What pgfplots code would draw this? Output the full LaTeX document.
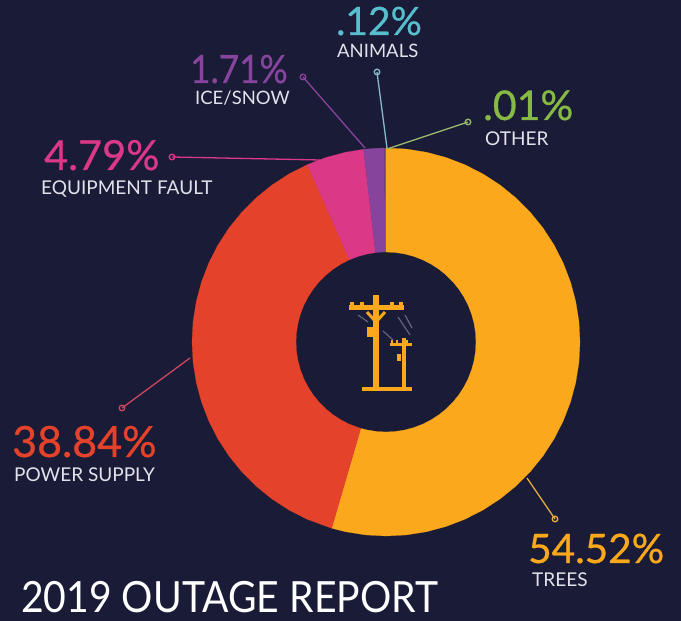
\documentclass[border=0pt]{standalone}
\usepackage{graphicx}
\usepackage{pgfplots}
\pgfplotsset{compat=1.18}
\usepackage{fontspec}
\setmainfont{Lato}
\newfontfamily\pctfont[FakeBold=0.7]{Lato}
\definecolor{bg}{RGB}{26,27,54}
\definecolor{ctrees}{RGB}{252,168,28}
\definecolor{cpower}{RGB}{228,66,42}
\definecolor{cequip}{RGB}{219,56,136}
\definecolor{cice}{RGB}{134,68,156}
\definecolor{canim}{RGB}{86,190,205}
\definecolor{cother}{RGB}{134,186,68}
\definecolor{ctext}{RGB}{226,226,236}
\newcommand{\txt}[5]{\node[anchor=base west,inner sep=0pt,text=#4,font=\fontsize{#3}{#3}\selectfont] at (axis cs:{#1-386},{342-#2}) {#5};}
\begin{document}
\begin{tikzpicture}
\begin{axis}[
  scale only axis,width=681pt,height=621pt,
  xmin=-386,xmax=295,ymin=-279,ymax=342,
  ticks=none,axis line style={draw=none},
  axis background/.style={fill=bg},
  clip=true]
% donut wedges (angle, radius): percentages 54.52, 38.84, 4.79, 1.71, .12, .01
\addplot[data cs=polar,fill=ctrees,draw=ctrees,line width=0.2pt] coordinates {
(90,194)(84,194)(78,194)(72,194)(66,194)(60,194)(54,194)(48,194)(42,194)(36,194)(30,194)(24,194)(18,194)(12,194)(6,194)(0,194)(-6,194)(-12,194)(-18,194)(-24,194)(-30,194)(-36,194)(-42,194)(-48,194)(-54,194)(-60,194)(-66,194)(-72,194)(-78,194)(-84,194)(-90,194)(-96,194)(-102,194)(-106.27,194)
(-106.27,90)(-102,90)(-96,90)(-90,90)(-84,90)(-78,90)(-72,90)(-66,90)(-60,90)(-54,90)(-48,90)(-42,90)(-36,90)(-30,90)(-24,90)(-18,90)(-12,90)(-6,90)(0,90)(6,90)(12,90)(18,90)(24,90)(30,90)(36,90)(42,90)(48,90)(54,90)(60,90)(66,90)(72,90)(78,90)(84,90)(90,90)} -- cycle;
\addplot[data cs=polar,fill=cpower,draw=cpower,line width=0.2pt] coordinates {
(113.9,194)(120,194)(126,194)(132,194)(138,194)(144,194)(150,194)(156,194)(162,194)(168,194)(174,194)(180,194)(186,194)(192,194)(198,194)(204,194)(210,194)(216,194)(222,194)(228,194)(234,194)(240,194)(246,194)(253.73,194)
(253.73,90)(246,90)(240,90)(234,90)(228,90)(222,90)(216,90)(210,90)(204,90)(198,90)(192,90)(186,90)(180,90)(174,90)(168,90)(162,90)(156,90)(150,90)(144,90)(138,90)(132,90)(126,90)(120,90)(113.9,90)} -- cycle;
\addplot[data cs=polar,fill=cequip,draw=cequip,line width=0.2pt] coordinates {
(96.66,194)(102,194)(108,194)(113.9,194)(113.9,90)(108,90)(102,90)(96.66,90)} -- cycle;
\addplot[data cs=polar,fill=cice,draw=cice,line width=0.2pt] coordinates {
(90.5,194)(93.5,194)(96.66,194)(96.66,90)(93.5,90)(90.5,90)} -- cycle;
\addplot[data cs=polar,fill=cice,draw=none] coordinates {
(90.07,194)(90.5,194)(90.5,90)(90.07,90)} -- cycle;
\addplot[data cs=polar,fill=cother,draw=none] coordinates {
(90.03,194)(90.07,194)(90.07,90)(90.03,90)} -- cycle;
% leaders
\pgfplotsset{leader/.style={line width=1.3pt,mark=o,mark indices={2},mark size=2.8pt,mark options={fill=bg,solid}}}
\addplot[leader,color={rgb,255:red,150;green,180;blue,110}] coordinates {(1,193)(82,220)};
\addplot[leader,color={rgb,255:red,135;green,185;blue,200}] coordinates {(1,194)(-9,270)};
\addplot[leader,color=cice] coordinates {(-21,194)(-83,265)};
\addplot[leader,color=cequip] coordinates {(-66,182)(-214,185)};
\addplot[leader,color={rgb,255:red,205;green,70;blue,95}] coordinates {(-196,-16)(-264,-66)};
\addplot[leader,color={rgb,255:red,225;green,170;blue,70}] coordinates {(141,-136)(169,-177)};
% pole icon
\pgfplotsset{pole/.style={color=ctrees,no marks}}
\addplot[pole,line width=6.5pt] coordinates {(-10,47)(-10,-46)};
\addplot[pole,line width=5pt] coordinates {(-37,34)(18,34)};
\addplot[pole,line width=4pt] coordinates {(-34,40)(-34,34)};
\addplot[pole,line width=4pt] coordinates {(-24,40)(-24,34)};
\addplot[pole,line width=4pt] coordinates {(6,40)(6,34)};
\addplot[pole,line width=4pt] coordinates {(15,40)(15,34)};
\addplot[pole,line width=3pt] coordinates {(-19,30)(-10,20)(-1,30)};
\addplot[pole,line width=6pt] coordinates {(-16.5,15)(-16.5,5)};
\addplot[pole,line width=4pt] coordinates {(-24,-47)(26,-47)};
\addplot[pole,line width=4.5pt] coordinates {(18,4)(18,-46)};
\addplot[pole,line width=3pt] coordinates {(4,-3)(26,-3)};
\addplot[pole,line width=2.5pt] coordinates {(6,2)(6,-3)};
\addplot[pole,line width=2.5pt] coordinates {(11,2)(11,-3)};
\addplot[pole,line width=2.5pt] coordinates {(21,2)(21,-3)};
\addplot[pole,line width=4pt] coordinates {(13,-12)(13,-19)};
\pgfplotsset{wire/.style={color={rgb,255:red,100;green,100;blue,125},no marks,line width=1.2pt}}
\addplot[wire] coordinates {(-28,27)(-18,20)};
\addplot[wire] coordinates {(-3,11)(7,2)};
\addplot[wire] coordinates {(12,25)(24,7)};
\addplot[wire] coordinates {(19,27)(26,14)};
% text
\txt{336}{35}{39}{canim}{\pctfont .12\%}
\txt{337}{58}{18.5}{ctext}{ANIMALS}
\txt{190}{83}{39}{cice}{\scalebox{.9}[1]{\pctfont 1.71\%}}
\txt{195}{105}{18.5}{ctext}{ICE/SNOW}
\txt{483}{120}{41}{cother}{\pctfont .01\%}
\txt{485}{146}{19}{ctext}{OTHER}
\txt{44}{170}{41.5}{cequip}{\pctfont 4.79\%}
\txt{41}{195}{19}{ctext}{EQUIPMENT FAULT}
\txt{12}{457}{43}{cpower}{\pctfont 38.84\%}
\txt{14}{482}{19}{ctext}{POWER SUPPLY}
\txt{528}{563}{40.5}{ctrees}{\pctfont 54.52\%}
\txt{532}{587}{19}{ctext}{TREES}
\txt{21}{613}{43}{white}{\scalebox{.91}[1]{2019 OUTAGE REPORT}}
\end{axis}
\end{tikzpicture}
\end{document}
